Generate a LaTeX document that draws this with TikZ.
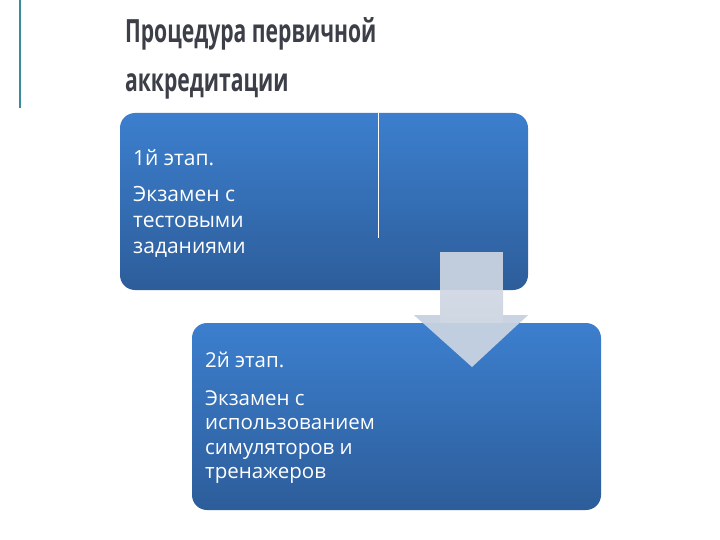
\documentclass[tikz,border=0pt]{standalone}
\usepackage{fontspec}
\setmainfont{Open Sans}
\newfontfamily\titlefont{Open Sans}
\definecolor{titlegray}{HTML}{3C3E48}
\definecolor{tealline}{HTML}{3A8C98}
\definecolor{boxtop}{HTML}{3C7FCE}
\definecolor{boxbot}{HTML}{2D5D9A}
\definecolor{arrowfill}{HTML}{C9D3E1}
\definecolor{arrowlight}{HTML}{D3DAE5}
\begin{document}
\begin{tikzpicture}[x=1pt,y=-1pt,
  stagebox/.style={rounded corners=15pt, top color=boxtop, bottom color=boxbot, draw=none},
  boxtexta/.style={text=white, font=\fontsize{21}{26}\selectfont, anchor=base west, inner sep=0pt},
  boxtextb/.style={text=white, font=\fontsize{20.5}{24.5}\selectfont, anchor=base west, inner sep=0pt},
  titletext/.style={text=titlegray, font=\titlefont\bfseries\fontsize{32}{49}\selectfont, anchor=base west, inner sep=0pt, xscale=0.66}]
\useasboundingbox[fill=white] (0,0) rectangle (720,540);
% teal side line
\draw[tealline, line width=2pt] (20,0) -- (20,108);
% title
\node[titletext] (t1) at (125,43) {Процедура первичной};
\node[titletext] (t2) at (125,92) {аккредитации};
% box 1
\path[stagebox] (120,113) rectangle (528,290);
\draw[white, line width=0.8pt] (378,113) -- (378,238);
\node[boxtexta] (h1) at (133,166) {1й этап.};
\node[boxtexta] (s1a) at (133,202) {Экзамен с};
\node[boxtexta] (s1b) at (133,228) {тестовыми};
\node[boxtexta] (s1c) at (133,254) {заданиями};
% arrow
\path[fill=arrowfill, fill opacity=0.95] (440,252) -- (503,252) -- (503,290) -- (440,290) -- cycle;
\path[top color=arrowlight, bottom color=arrowfill] (440,290) -- (503,290) -- (503,315) -- (528,315) -- (472,367) -- (414,315) -- (440,315) -- cycle;
% box 2
\path[stagebox] (192,323) rectangle (601,510);
\path[fill=arrowfill, fill opacity=0.95] (440,323) -- (503,323) -- (503,315) -- (528,315) -- (472,367) -- (414,315) -- (440,315) -- cycle;
\node[boxtextb] (h2) at (205,367) {2й этап.};
\node[boxtextb] (s2a) at (205,405) {Экзамен с};
\node[boxtextb] (s2b) at (205,429.5) {использованием};
\node[boxtextb] (s2c) at (205,454) {симуляторов и};
\node[boxtextb] (s2d) at (205,478.5) {тренажеров};
\end{tikzpicture}
\end{document}
